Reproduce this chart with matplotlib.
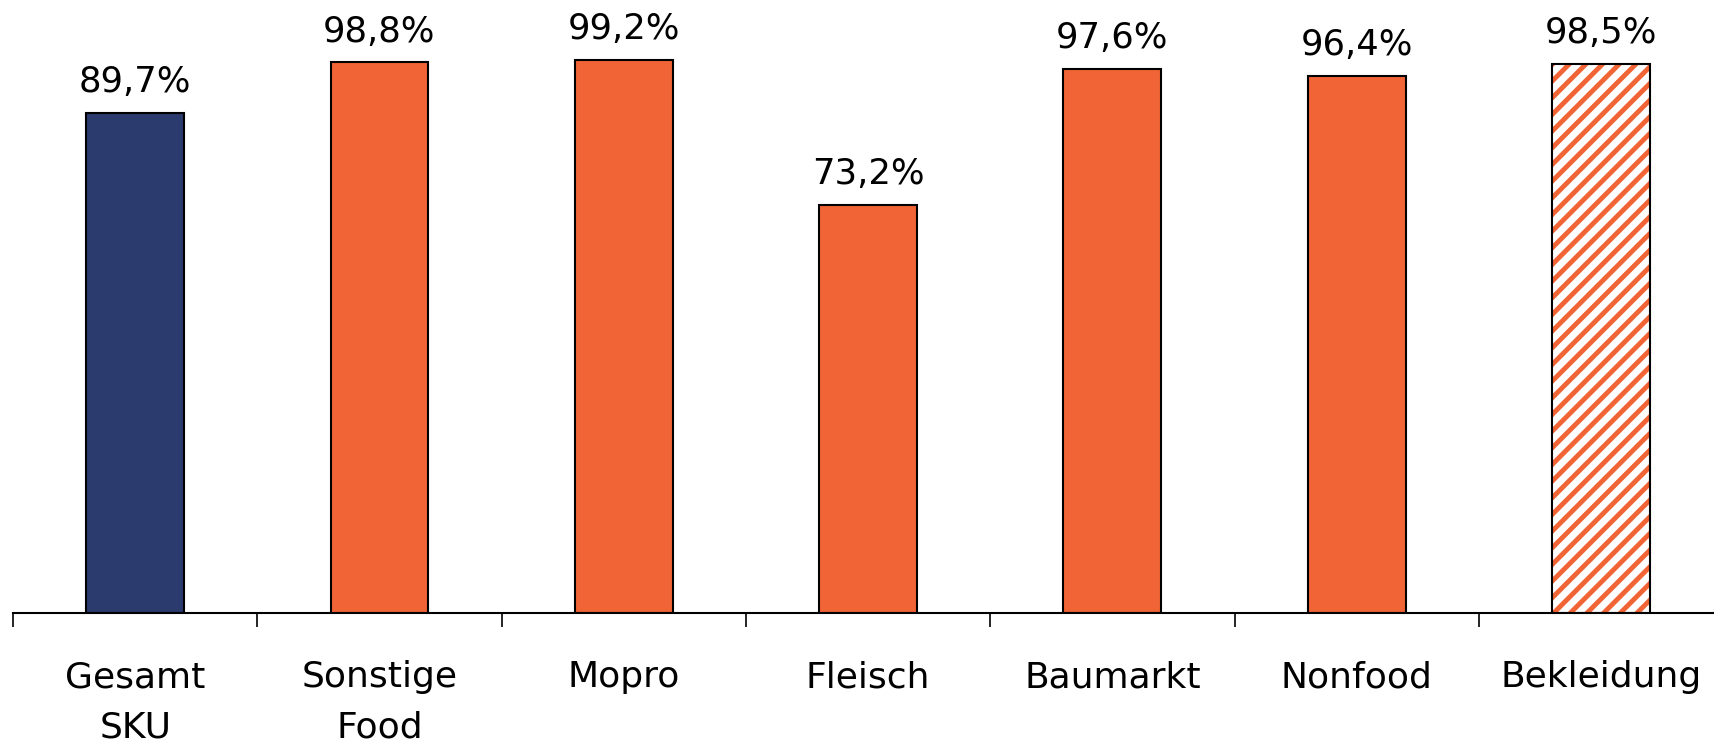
import matplotlib.pyplot as plt
import numpy as np

categories = ["Gesamt\nSKU", "Sonstige\nFood", "Mopro", "Fleisch", "Baumarkt", "Nonfood", "Bekleidung"]
values = [89.7, 98.8, 99.2, 73.2, 97.6, 96.4, 98.5]
labels = ["89,7%", "98,8%", "99,2%", "73,2%", "97,6%", "96,4%", "98,5%"]

navy = "#2B3B6E"
orange = "#F06436"
colors = [navy] + [orange] * 6

plt.rcParams["font.family"] = "DejaVu Sans"
plt.rcParams["hatch.linewidth"] = 3.5

fig = plt.figure(figsize=(17.14, 7.43), dpi=100)
ax = fig.add_axes([13 / 1714, 0.175, 244.3 * 7 / 1714, 0.825])

x = np.arange(len(categories))
# solid bars
for i in range(len(categories) - 1):
    ax.bar(x[i], values[i], width=0.4, color=colors[i], edgecolor="black", linewidth=1.5)

# hatched last bar
last = len(categories) - 1
ax.bar(x[last], values[last], width=0.4, color="white", edgecolor=orange, hatch="//", linewidth=0)
ax.bar(x[last], values[last], width=0.4, fill=False, edgecolor="black", linewidth=1.5)

for xi, v, lab in zip(x, values, labels):
    ax.annotate(lab, (xi, v), xytext=(0, 10), textcoords="offset points",
                ha="center", va="bottom", fontsize=25.5)

ax.set_xlim(-0.5, len(categories) - 0.5)
ax.set_ylim(0, 110)

for s in ["left", "right", "top"]:
    ax.spines[s].set_visible(False)
ax.spines["bottom"].set_linewidth(1.5)
ax.set_yticks([])

# boundary ticks (no labels), category labels on minor ticks
ax.set_xticks(np.arange(len(categories)) - 0.5)
ax.set_xticklabels([])
ax.tick_params(axis="x", which="major", length=10, width=1.2, direction="out")
ax.set_xticks(x, minor=True)
ax.set_xticklabels(categories, minor=True, fontsize=26, linespacing=1.6)
ax.tick_params(axis="x", which="minor", length=0, pad=34)

fig.savefig("out.png", dpi=100)
